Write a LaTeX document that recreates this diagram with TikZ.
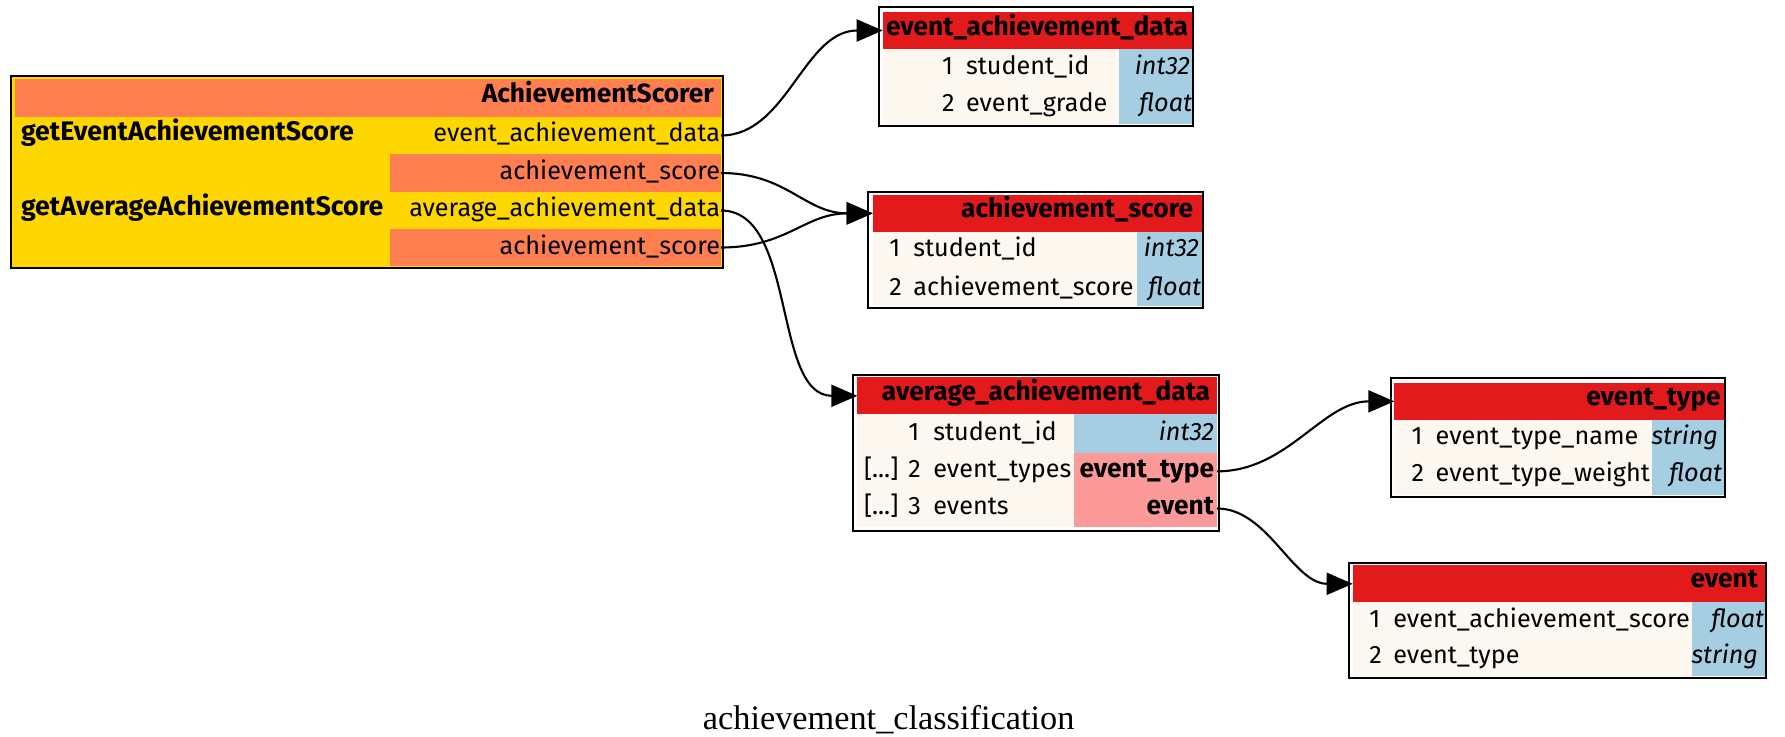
\documentclass[tikz,border=0pt]{standalone}
\usepackage{fontspec}
\setmainfont{Liberation Serif}
\newfontfamily\uifont{Fira Sans}
\usetikzlibrary{arrows.meta}

\definecolor{hdrred}{RGB}{227,26,28}
\definecolor{bodycream}{RGB}{253,248,239}
\definecolor{typeblue}{RGB}{166,206,227}
\definecolor{refpink}{RGB}{251,154,153}
\definecolor{scorercoral}{RGB}{255,127,80}
\definecolor{scorergold}{RGB}{255,215,0}

\tikzset{
  cellnode/.style={anchor=north west, inner sep=0pt, outer sep=0pt, draw=none},
  frame/.style={anchor=north west, inner sep=0pt, outer sep=0pt, draw=black, line width=2.3pt, fill=none},
  txt/.style={inner sep=0pt, outer sep=0pt, font=\uifont\fontsize{25.2}{30}\selectfont},
  bold/.style={font=\uifont\bfseries\fontsize{26.3}{30}\selectfont},
  fnbold/.style={font=\uifont\bfseries\fontsize{26.8}{30}\selectfont},
  ital/.style={font=\uifont\itshape\fontsize{25.2}{30}\selectfont},
  lt/.style={txt, anchor=base west},
  rt/.style={txt, anchor=base east},
  edge/.style={draw=black, line width=2.1pt, -{Triangle[length=26pt,width=22pt]}},
}

% a filled cell given by its corners: name, x1, y1, x2, y2, colour
\newcommand\cellat[6]{%
  \node[cellnode, fill=#6, minimum width={(#4-#2)*1pt}, minimum height={(#5-#3)*1pt}] (#1) at (#2,#3) {};}
% an outline given by its corners
\newcommand\frameat[5]{%
  \node[frame, minimum width={(#4-#2)*1pt}, minimum height={(#5-#3)*1pt}] (#1) at (#2,#3) {};}

\begin{document}
\begin{tikzpicture}[x=1pt, y=-1pt]
\useasboundingbox (0,0) rectangle (1785,736);
\fill[white] (0,0) rectangle (1785,736);

% ---------------- AchievementScorer ----------------
\cellat{scorerbg}{11}{76}{723}{268}{scorergold}
\cellat{scorerh}{15}{79}{721}{117}{scorercoral}
\cellat{m1}{390}{117}{721}{154}{scorergold}
\cellat{m2}{390}{154}{721}{192}{scorercoral}
\cellat{m3}{390}{192}{721}{229}{scorergold}
\cellat{m4}{390}{229}{721}{266}{scorercoral}
\frameat{scorer}{11}{76}{723}{268}
\node[rt, bold] (scorert) at (714,102) {AchievementScorer};
\node[lt, fnbold] (fn1) at (21,140) {getEventAchievementScore};
\node[lt, fnbold] (fn2) at (21,215) {getAverageAchievementScore};
\node[rt] (m1t) at (720,141.5) {event\_achievement\_data};
\node[rt] (m2t) at (720,179) {achievement\_score};
\node[rt] (m3t) at (720,216.5) {average\_achievement\_data};
\node[rt] (m4t) at (720,254) {achievement\_score};

% ---------------- event_achievement_data ----------------
\cellat{t1h}{882.7}{11.7}{1191.5}{49.3}{hdrred}
\cellat{t1b}{882.7}{49.3}{1191.5}{123.5}{bodycream}
\cellat{t1r1t}{1119.3}{49.3}{1191.5}{87}{typeblue}
\cellat{t1r2t}{1119.3}{87}{1191.5}{123.5}{typeblue}
\frameat{t1}{878.7}{7.3}{1193}{125.8}
\node[rt, bold] (t1ht) at (1188,35) {event\_achievement\_data};
\node[lt] (t1n1) at (942,74) {1};
\node[lt] (t1f1) at (966,74) {student\_id};
\node[rt, ital] (t1y1) at (1190,74) {int32};
\node[lt] (t1n2) at (942,111) {2};
\node[lt] (t1f2) at (966,111) {event\_grade};
\node[rt, ital] (t1y2) at (1192,111) {float};

% ---------------- achievement_score ----------------
\cellat{t2h}{872.7}{195}{1202}{231.7}{hdrred}
\cellat{t2b}{872.7}{231.7}{1202}{306}{bodycream}
\cellat{t2r1t}{1136.7}{231.7}{1202}{270}{typeblue}
\cellat{t2r2t}{1136.7}{270}{1202}{306}{typeblue}
\frameat{t2}{868.3}{191.7}{1203.3}{308.3}
\node[rt, bold] (t2ht) at (1193,217) {achievement\_score};
\node[lt] (t2n1) at (889.3,256.7) {1};
\node[lt] (t2f1) at (913.3,256.7) {student\_id};
\node[rt, ital] (t2y1) at (1199,256.7) {int32};
\node[lt] (t2n2) at (889.3,295) {2};
\node[lt] (t2f2) at (913.3,295) {achievement\_score};
\node[rt, ital] (t2y2) at (1201,295) {float};

% ---------------- average_achievement_data ----------------
\cellat{t3h}{857.3}{377.3}{1217}{414.3}{hdrred}
\cellat{t3b}{857.3}{414.3}{1217}{527}{bodycream}
\cellat{t3r1t}{1074}{414.3}{1217}{452.7}{typeblue}
\cellat{t3r2t}{1074}{452.7}{1217}{490}{refpink}
\cellat{t3r3t}{1074}{490}{1217}{527}{refpink}
\frameat{t3}{853.3}{374.7}{1218.7}{530.7}
\node[rt, bold] (t3ht) at (1210,400) {average\_achievement\_data};
\node[lt] (t3n1) at (908.3,440) {1};
\node[lt] (t3f1) at (933.3,440) {student\_id};
\node[rt, ital] (t3y1) at (1214,440) {int32};
\node[lt] (t3l2) at (864,477.5) {[...]};
\node[lt] (t3n2) at (908.3,477.5) {2};
\node[lt] (t3f2) at (933.3,477.5) {event\_types};
\node[rt, bold] (t3y2) at (1214,477.5) {event\_type};
\node[lt] (t3l3) at (864,514.5) {[...]};
\node[lt] (t3n3) at (908.3,514.5) {3};
\node[lt] (t3f3) at (933.3,514.5) {events};
\node[rt, bold] (t3y3) at (1214,514.5) {event};

% ---------------- event_type ----------------
\cellat{t4h}{1394.3}{382.7}{1724}{420}{hdrred}
\cellat{t4b}{1394.3}{420}{1724}{494.5}{bodycream}
\cellat{t4r1t}{1651.7}{420}{1724}{457}{typeblue}
\cellat{t4r2t}{1651.7}{457}{1724}{494.5}{typeblue}
\frameat{t4}{1390.7}{378.3}{1725.3}{496.7}
\node[rt, bold] (t4ht) at (1720.7,405.5) {event\_type};
\node[lt] (t4n1) at (1411.7,444) {1};
\node[lt] (t4f1) at (1435.7,444) {event\_type\_name};
\node[rt, ital] (t4y1) at (1718,444) {string};
\node[lt] (t4n2) at (1411.7,481) {2};
\node[lt] (t4f2) at (1435.7,481) {event\_type\_weight};
\node[rt, ital] (t4y2) at (1722,481) {float};

% ---------------- event ----------------
\cellat{t5h}{1352.7}{565.3}{1765}{602.3}{hdrred}
\cellat{t5b}{1352.7}{602.3}{1765}{676}{bodycream}
\cellat{t5r1t}{1691.7}{602.3}{1765}{640}{typeblue}
\cellat{t5r2t}{1691.7}{640}{1765}{676}{typeblue}
\frameat{t5}{1349.3}{562.7}{1766}{678.3}
\node[rt, bold] (t5ht) at (1758,587) {event};
\node[lt] (t5n1) at (1369.3,627) {1};
\node[lt] (t5f1) at (1393.3,627) {event\_achievement\_score};
\node[rt, ital] (t5y1) at (1764,627) {float};
\node[lt] (t5n2) at (1369.3,663.5) {2};
\node[lt] (t5f2) at (1393.3,663.5) {event\_type};
\node[rt, ital] (t5y2) at (1758,663.5) {string};

% ---------------- connectors ----------------
\draw[edge] (m1.east) .. controls +(66,0) and +(-79,0) .. (t1h.west);
\draw[edge] (m2.east) .. controls +(66,0) and +(-68,0) .. (t2h.west);
\draw[edge] (m4.east) .. controls +(66,0) and +(-68,0) .. (t2h.west);
\draw[edge] (m3.east) .. controls +(76,0) and +(-85,0) .. (t3h.west);
\draw[edge] (t3r2t.east) .. controls +(71,0) and +(-72,0) .. (t4h.west);
\draw[edge] (t3r3t.east) .. controls +(51,0) and +(-60,0) .. (t5h.west);

% ---------------- caption ----------------
\node[inner sep=0pt, anchor=base, font=\fontsize{34.3}{40}\selectfont] (caption) at (888.6,729) {achievement\_classification};
\end{tikzpicture}
\end{document}
